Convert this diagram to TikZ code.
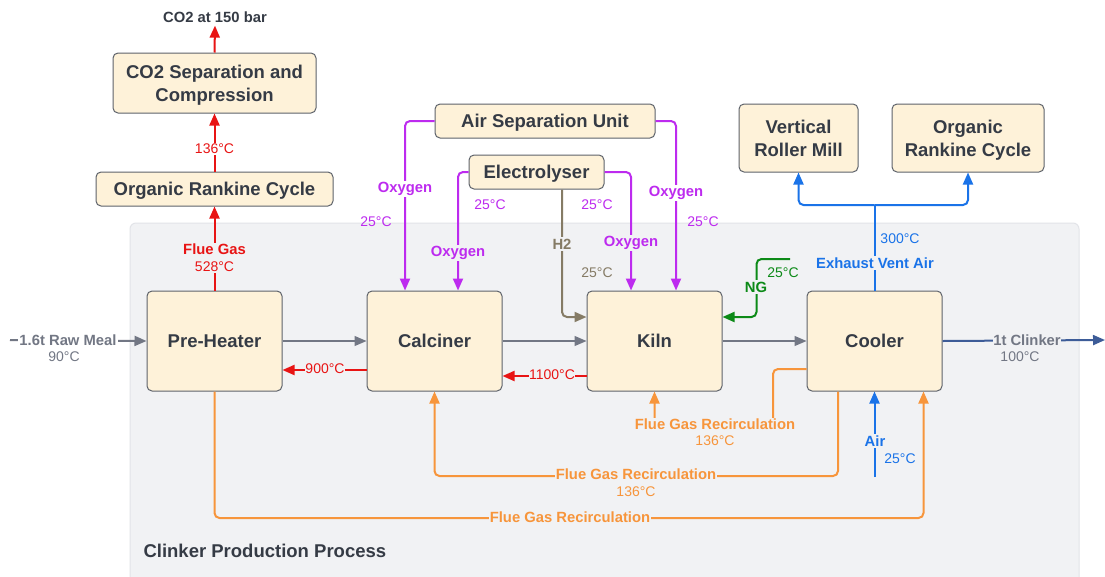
\documentclass[tikz,border=0pt]{standalone}
\usepackage{fontspec}
\setmainfont{Liberation Sans}
\usetikzlibrary{arrows.meta}
\definecolor{boxfill}{HTML}{FEF2D9}
\definecolor{boxline}{HTML}{5E636B}
\definecolor{txt}{HTML}{353B45}
\definecolor{zone}{HTML}{F1F2F4}
\definecolor{zoneline}{HTML}{E2E4E8}
\definecolor{fluered}{HTML}{E81414}
\definecolor{oxy}{HTML}{BD2BEF}
\definecolor{hyd}{HTML}{857B65}
\definecolor{gas}{HTML}{0C8A17}
\definecolor{airblue}{HTML}{1A73E8}
\definecolor{fgr}{HTML}{F7953B}
\definecolor{feed}{HTML}{727784}
\definecolor{clink}{HTML}{3D5C98}

\begin{document}
\begin{tikzpicture}[x=1pt,y=-1pt,
  unit/.style={draw=boxline, fill=boxfill, rounded corners=5pt, line width=1pt,
    text=txt, font=\fontsize{18.5}{22.7}\selectfont\bfseries, align=center,
    inner sep=0pt, text depth=0pt},
  flow/.style={line width=2pt, rounded corners=5pt, -{Triangle[length=12pt,width=10pt]}},
  plain/.style={line width=2pt, rounded corners=5pt},
  lbl/.style={font=\fontsize{14.8}{17}\selectfont\bfseries, inner sep=1.5pt},
  tmp/.style={font=\fontsize{14}{17}\selectfont, inner sep=1.5pt},
  onzone/.style={fill=zone},
  onwhite/.style={fill=white},
]
% page and process zone
\path[fill=white] (0,0) rectangle (1105,576);
\useasboundingbox (0,0) rectangle (1105,576);
\draw[zoneline, fill=zone, rounded corners=6pt, line width=1pt] (130,223) rectangle (1079,600);
\node[anchor=west, text=txt, font=\fontsize{18.5}{22}\selectfont\bfseries] (zonetitle) at (140,551) {Clinker Production Process};

% units
\node[unit, minimum width=203pt, minimum height=60pt] (co2sep) at (214.5,83) {CO2 Separation and\\Compression};
\node[unit, minimum width=237pt, minimum height=34pt] (orcA) at (214.5,189) {Organic Rankine Cycle};
\node[unit, minimum width=220pt, minimum height=34pt] (asu) at (545,121) {Air Separation Unit};
\node[unit, minimum width=135pt, minimum height=34pt] (ely) at (536.5,172) {Electrolyser};
\node[unit, minimum width=119pt, minimum height=68pt] (vrm) at (798.5,138) {Vertical\\Roller Mill};
\node[unit, minimum width=152pt, minimum height=68pt] (orcB) at (968,138) {Organic\\Rankine Cycle};
\node[unit, minimum width=135pt, minimum height=100pt] (pre) at (214.5,341) {Pre-Heater};
\node[unit, minimum width=135pt, minimum height=100pt] (cal) at (434.5,341) {Calciner};
\node[unit, minimum width=135pt, minimum height=100pt] (kiln) at (654.5,341) {Kiln};
\node[unit, minimum width=135pt, minimum height=100pt] (cool) at (874.5,341) {Cooler};

% free ends
\node[lbl, text=txt, inner sep=0pt] (co2out) at (215,17) {CO2 at 150 bar};
\coordinate (rawin) at (10,340);
\coordinate (clinkout) at (1105,340);
\coordinate (ngin) at (790,259);
\coordinate (airin) at (874.5,477);
\coordinate (split) at (874.5,205);

% flue gas path to carbon capture
\draw[flow, fluered] (pre.north) -- (orcA.south);
\draw[flow, fluered] (orcA.north) -- (co2sep.south);
\draw[flow, fluered] (co2sep.north) -- ([yshift=-3pt]co2out.south);
\node[tmp, text=fluered, onwhite] (t136a) at (214.5,149) {136°C};
\node[onzone, text=fluered, align=center, inner sep=1.5pt, font=\fontsize{14}{17}\selectfont] (fg528) at (214.5,258) {\fontsize{14.8}{17}\selectfont\bfseries Flue Gas\\528°C};

% oxygen supply
\draw[flow, oxy] (asu.west) -| ([xshift=-29.5pt]cal.north);
\draw[flow, oxy] (asu.east) -| ([xshift=21.5pt]kiln.north);
\draw[flow, oxy] (ely.west) -| ([xshift=23.5pt]cal.north);
\draw[flow, oxy] (ely.east) -| ([xshift=-23.5pt]kiln.north);
\node[lbl, text=oxy, onwhite] (oxA) at (405,189) {Oxygen};
\node[lbl, text=oxy, onwhite] (oxB) at (676,193) {Oxygen};
\node[lbl, text=oxy, onzone] (oxC) at (458,253) {Oxygen};
\node[lbl, text=oxy, onzone] (oxD) at (631,243) {Oxygen};
\node[tmp, text=oxy] (toxA) at (376,222) {25°C};
\node[tmp, text=oxy] (toxB) at (703,222) {25°C};
\node[tmp, text=oxy] (toxC) at (490,205) {25°C};
\node[tmp, text=oxy] (toxD) at (597,205) {25°C};

% hydrogen and natural gas
\draw[flow, hyd] ([xshift=25.5pt]ely.south) |- ([yshift=24pt]kiln.west);
\node[lbl, text=hyd, onzone] (h2) at (562,244) {H2};
\node[tmp, text=hyd] (th2) at (597,273) {25°C};
\draw[flow, gas] (ngin) -| ([xshift=34pt,yshift=24pt]kiln.east) -- ([yshift=24pt]kiln.east);
\node[lbl, text=gas, onzone] (ng) at (756,287) {NG};
\node[tmp, text=gas] (tng) at (783,273) {25°C};

% solids flow
\draw[flow, feed] (rawin) -- (pre.west);
\node[lbl, text=feed, fill=white] (raw) at (68,340) {1.6t Raw Meal};
\node[tmp, text=feed] (traw) at (64,357) {90°C};
\draw[flow, feed, line width=1.2pt] (pre.east) -- (cal.west);
\draw[flow, feed, line width=1.2pt] (cal.east) -- (kiln.west);
\draw[flow, feed, line width=1.2pt] (kiln.east) -- (cool.west);
\draw[flow, clink] (cool.east) -- (clinkout);
\node[lbl, text=feed, onzone, inner sep=0.5pt] (clk) at (1027,340) {1t Clinker};
\node[tmp, text=feed] (tclk) at (1020,357) {100°C};

% hot gas returns
\draw[flow, fluered] ([yshift=-29pt]cal.west) -- ([yshift=-29pt]pre.east);
\node[tmp, text=fluered, onzone, inner sep=0.5pt] (t900) at (325,369) {900°C};
\draw[flow, fluered] ([yshift=-35pt]kiln.west) -- ([yshift=-35pt]cal.east);
\node[tmp, text=fluered, onzone, inner sep=0.5pt] (t1100) at (552,375) {1100°C};

% cooler exhaust air
\draw[plain, airblue] (cool.north) -- (split);
\draw[flow, airblue] (split) -| (vrm.south);
\draw[flow, airblue] (split) -| (orcB.south);
\node[tmp, text=airblue] (t300) at (900,239) {300°C};
\node[lbl, text=airblue, onzone] (exh) at (875,263) {Exhaust Vent Air};

% cooling air
\draw[flow, airblue] (airin) -- (cool.south);
\node[lbl, text=airblue, onzone] (air) at (875,441) {Air};
\node[tmp, text=airblue] (tair) at (900,459) {25°C};

% flue gas recirculation
\draw[flow, fgr] ([yshift=-28pt]cool.west) -| (773,424) -| (kiln.south);
\node[lbl, text=fgr, onzone, inner sep=0.5pt] (fgrA) at (715,424) {Flue Gas Recirculation};
\node[tmp, text=fgr] (tfgrA) at (715,441) {136°C};
\draw[flow, fgr] ([xshift=-36.5pt]cool.south) |- (600,476) -| (cal.south);
\node[lbl, text=fgr, onzone, inner sep=0.5pt] (fgrB) at (636,474) {Flue Gas Recirculation};
\node[tmp, text=fgr] (tfgrB) at (636,492) {136°C};
\draw[flow, fgr] (pre.south) |- (570,518) -| ([xshift=49pt]cool.south);
\node[lbl, text=fgr, onzone, inner sep=0.5pt] (fgrC) at (570,517) {Flue Gas Recirculation};
\end{tikzpicture}
\end{document}
